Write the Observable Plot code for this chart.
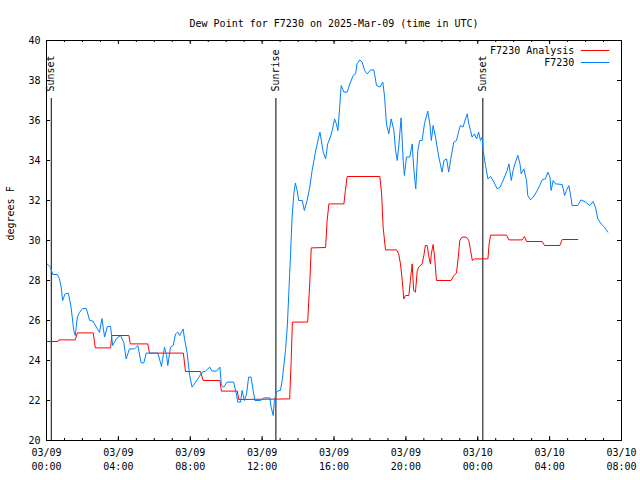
<!DOCTYPE html>
<html>
<head>
<meta charset="utf-8">
<script src="https://cdn.jsdelivr.net/npm/d3@7"></script>
<script src="https://cdn.jsdelivr.net/npm/@observablehq/plot@0.6"></script>
<style>
  html, body { margin: 0; padding: 0; background: #fff; }
  svg { display: block; }
</style>
</head>
<body>
<div id="chart"></div>
<script>
// ---- data (minutes after 2025-03-09 00:00 UTC) ----
const titleText = "Dew Point for F7230 on 2025-Mar-09 (time in UTC)";
const yLabel = "degrees F";
const seriesNames = ["F7230 Analysis", "F7230"];
const seriesColors = ["#ff0000", "#0080ff"];

const obsMinutes = [2,13,21,36,43,49,54,62,73,82,91,96,103,110,121,133,144,155,169,177,185,194,203,214,221,233,247,258,266,277,294,305,316,325,333,372,384,394,401,405,414,423,431,438,445,456,461,470,478,486,498,509,520,531,545,553,568,579,584,592,603,625,634,639,648,653,661,668,675,683,690,696,715,726,746,750,757,761,768,776,781,787,792,798,804,809,815,820,826,831,837,842,854,861,870,879,887,898,909,913,924,932,939,948,954,962,968,973,979,984,993,1004,1013,1024,1032,1037,1046,1054,1062,1071,1082,1093,1102,1113,1123,1129,1135,1143,1151,1160,1165,1171,1176,1184,1191,1195,1202,1213,1221,1226,1233,1240,1246,1254,1262,1273,1280,1285,1291,1299,1310,1321,1327,1336,1343,1351,1360,1369,1377,1382,1391,1399,1405,1410,1416,1421,1429,1436,1443,1449,1455,1458,1466,1474,1483,1494,1505,1514,1527,1538,1544,1552,1558,1566,1574,1581,1585,1594,1603,1607,1616,1625,1636,1647,1655,1666,1674,1681,1685,1692,1700,1722,1730,1736,1744,1752,1755,1774,1785,1800,1814,1825,1833,1841,1852,1863,1874];
const obsValues = [28.83,28.67,28.3,28.3,28.1,27.67,27.0,27.33,27.37,26.67,25.5,25.25,26.17,26.4,26.6,26.6,26.0,25.97,25.6,25.4,26.1,25.17,25.7,25.7,24.75,25.08,25.25,24.9,24.08,24.58,24.58,24.75,23.88,23.88,24.37,24.37,23.7,24.67,24.25,23.75,24.67,24.75,25.33,25.42,25.25,25.58,25.08,24.33,23.25,22.67,22.92,23.17,23.42,23.47,23.67,23.47,23.47,23.67,22.75,22.67,22.92,22.92,22.33,21.92,21.92,22.5,22.0,22.33,23.17,23.17,22.5,22.0,22.0,22.13,22.13,21.67,21.25,22.0,22.42,22.5,22.5,23.0,23.67,24.5,25.67,27.33,29.33,31.17,32.33,32.87,32.5,32.0,32.0,31.5,32.0,32.67,33.5,34.42,35.17,35.42,34.42,34.08,34.83,35.17,35.5,36.08,35.83,35.5,36.67,37.75,37.42,37.42,37.83,38.25,38.33,38.83,39.03,38.92,38.5,38.33,38.53,38.53,37.75,37.67,37.92,37.17,35.83,35.33,36.08,35.5,34.58,34.0,34.67,36.13,34.0,33.25,34.17,34.17,34.83,33.67,32.58,34.5,35.0,35.0,35.83,36.47,35.83,35.0,35.75,35.17,34.17,33.42,34.0,34.08,33.42,34.17,34.92,35.0,35.5,35.75,35.67,36.08,36.33,35.83,35.5,35.17,35.33,35.08,35.42,35.0,35.17,34.5,33.75,33.08,33.2,32.92,32.58,32.65,33.08,33.5,33.83,33.0,33.5,33.92,34.25,33.83,33.33,33.58,33.0,32.25,32.03,32.17,32.42,32.75,33.03,33.08,33.42,33.17,32.5,33.0,32.83,32.8,32.25,32.5,32.75,32.08,31.75,31.75,32.03,31.92,31.75,31.95,31.67,31.08,30.83,30.67,30.42];

const anaMinutes = [2,38,41,96,103,156,163,214,218,275,280,338,344,457,464,514,523,579,584,637,642,812,817,821,872,879,884,932,937,943,993,998,1004,1113,1119,1124,1132,1169,1176,1182,1188,1193,1199,1210,1215,1221,1226,1232,1238,1243,1254,1260,1265,1271,1276,1282,1285,1291,1296,1302,1351,1360,1369,1375,1380,1388,1402,1410,1416,1422,1429,1474,1478,1483,1536,1544,1588,1596,1603,1655,1663,1714,1722,1774];
const anaValues = [24.95,24.95,25.03,25.03,25.38,25.38,24.63,24.63,25.25,25.25,24.83,24.83,24.37,24.37,23.45,23.45,23.0,23.0,22.47,22.47,22.05,22.08,24.0,25.92,25.92,27.83,29.63,29.65,31.0,31.83,31.83,32.5,33.2,33.2,32.33,30.67,29.53,29.53,29.33,28.83,28.0,27.08,27.25,27.25,28.0,28.83,27.5,27.42,28.5,28.67,28.83,29.25,29.75,29.75,29.25,28.83,29.33,29.8,29.17,28.0,28.0,28.25,28.37,29.17,30.0,30.17,30.17,30.0,29.5,29.0,29.08,29.08,29.83,30.27,30.27,30.03,30.03,30.2,29.95,29.95,29.75,29.75,30.05,30.05];

const eventNames = ["Sunset", "Sunrise", "Sunset"];
const eventMinutes = [16, 766, 1457];
const eventLineTop = 37.1;

const xMajorHours = [0, 4, 8, 12, 16, 20, 24, 28, 32];
const xMinorHours = d3.range(0, 33);
const yTickValues = [20, 22, 24, 26, 28, 30, 32, 34, 36, 38, 40];
const xDomainHours = [0, 32];
const yDomain = [20, 40];

// legend sample positions (data space)
const legendLineMinutes = [1786, 1881];
const legendRowsY = [39.5, 38.9];

// ---- build ----
const base = Date.UTC(2025, 2, 9);
const toDate = (m) => new Date(base + m * 60000);
const obs = obsMinutes.map((m, i) => ({t: toDate(m), v: obsValues[i]}));
const ana = anaMinutes.map((m, i) => ({t: toDate(m), v: anaValues[i]}));
const events = eventMinutes.map((m, i) => ({t: toDate(m), name: eventNames[i]}));
const xMajor = xMajorHours.map(h => toDate(h * 60));
const xMinor = xMinorHours.map(h => toDate(h * 60));
const fmtDate = d3.utcFormat("%m/%d");
const fmtTime = d3.utcFormat("%H:%M");

const font = "DejaVu Sans Mono";
const fs = 10;

const plot = Plot.plot({
  width: 640,
  height: 480,
  marginLeft: 46,
  marginRight: 19,
  marginTop: 40,
  marginBottom: 40,
  style: {fontFamily: font, fontSize: fs + "px", background: "#fff", color: "#000"},
  x: {type: "utc", domain: xDomainHours.map(h => toDate(h * 60)), axis: null},
  y: {domain: yDomain, axis: null},
  marks: [
    // ticks (inward)
    Plot.tickX(xMinor, {x: d => d, insetTop: 398, stroke: "#000"}),
    Plot.tickX(xMinor, {x: d => d, insetBottom: 398, stroke: "#000"}),
    Plot.tickX(xMajor, {x: d => d, insetTop: 396, stroke: "#000"}),
    Plot.tickX(xMajor, {x: d => d, insetBottom: 396, stroke: "#000"}),
    Plot.tickY(yTickValues, {y: d => d, insetRight: 571, stroke: "#000"}),
    Plot.tickY(yTickValues, {y: d => d, insetLeft: 571, stroke: "#000"}),
    // event lines
    Plot.ruleX(events, {x: "t", y1: eventLineTop, y2: yDomain[0], stroke: "#000"}),
    Plot.text(events, {x: "t", y: eventLineTop, text: "name", rotate: -90, textAnchor: "start", dy: -7, fill: "#000", fontSize: fs}),
    // series
    Plot.line(ana, {x: "t", y: "v", stroke: seriesColors[0], strokeWidth: 1}),
    Plot.line(obs, {x: "t", y: "v", stroke: seriesColors[1], strokeWidth: 1}),
    Plot.frame({stroke: "#000"}),
    // tick labels
    Plot.text(xMajor, {x: d => d, frameAnchor: "bottom", dy: 15, text: d => fmtDate(d), fill: "#000"}),
    Plot.text(xMajor, {x: d => d, frameAnchor: "bottom", dy: 29, text: d => fmtTime(d), fill: "#000"}),
    Plot.text(yTickValues, {y: d => d, frameAnchor: "left", dx: -6, textAnchor: "end", text: d => String(d), fill: "#000"}),
    // title and axis label
    Plot.text([titleText], {frameAnchor: "top", dy: -21, text: d => d, fill: "#000"}),
    Plot.text([yLabel], {frameAnchor: "left", dx: -36, rotate: -90, text: d => d, fill: "#000"}),
    // legend
    Plot.text(seriesNames, {x: toDate(legendLineMinutes[0]), y: (d, i) => legendRowsY[i], text: d => d, textAnchor: "end", dx: -7, fill: "#000"}),
    Plot.ruleY(seriesNames, {y: (d, i) => legendRowsY[i], x1: toDate(legendLineMinutes[0]), x2: toDate(legendLineMinutes[1]), stroke: (d, i) => seriesColors[i]})
  ]
});
document.getElementById("chart").appendChild(plot);
</script>
</body>
</html>
